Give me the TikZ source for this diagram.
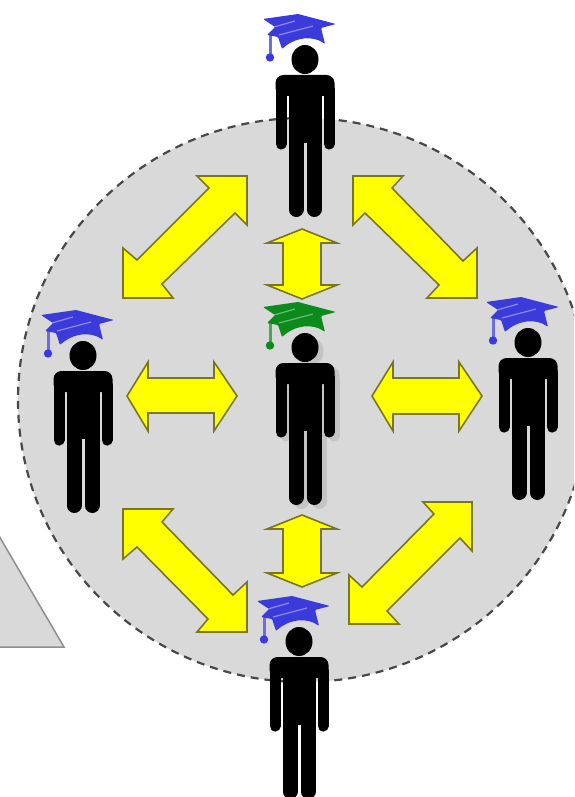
\documentclass[tikz,border=0pt]{standalone}
\definecolor{panel}{HTML}{D9D9D9}
\definecolor{rimline}{HTML}{484848}
\definecolor{wedgeline}{HTML}{8F8F8F}
\definecolor{arrowfill}{HTML}{FFFF00}
\definecolor{arrowline}{HTML}{7A7620}
\definecolor{capblue}{HTML}{3B3BDC}
\definecolor{capgreen}{HTML}{0C8A1C}
\definecolor{shadowgrey}{HTML}{C4C4C4}
\tikzset{
  twoway/.style={fill=arrowfill,draw=arrowline,line width=1.6pt,miter limit=6},
  limb/.style={line cap=round,line width=#1},
  pics/figure/.style={code={
    \fill[#1] (0,0.5) ellipse [x radius=13.5,y radius=14.5];
    \fill[#1,rounded corners=8pt] (-29.5,37) -- (-29.5,16) -- (29.5,16) -- (29.5,37) -- cycle;
    \fill[#1] (-16.5,20) rectangle (16.5,84);
    \draw[#1,limb=11pt] (-24,30) -- (-24,85);
    \draw[#1,limb=11pt] (24,30) -- (24,85);
    \draw[#1,limb=15pt] (-9,70) -- (-9,150.5);
    \draw[#1,limb=15pt] (9,70) -- (9,150.5);
  }},
  pics/mortarboard/.style={code={
    \draw[#1!75!white,line width=3pt] (-35,-26) -- (-35,-3);
    \fill[#1] (-35,-1.5) circle (4.2);
    \fill[#1,rounded corners=1pt] (-42,-40) -- (-7,-45) -- (31,-35) -- (16,-31) -- (20,-15)
      .. controls (8,-24) and (-10,-22) .. (-23,-10) -- (-27,-22) -- (-38,-24) -- (-30,-32) -- cycle;
    \draw[white,opacity=.4,line width=1.2pt] (-31,-32) -- (-10,-38);
    \draw[white,opacity=.4,line width=1.2pt] (-26,-24) -- (8,-33);
  }}
}
\begin{document}
\begin{tikzpicture}[x=1pt,y=-1pt]
\useasboundingbox (0,0) rectangle (574,797);
\clip (0,0) rectangle (574,797);
\fill[white] (0,0) rectangle (574,797);

% wedge at the left edge
\draw[fill=panel,draw=wedgeline,line width=1.5pt] (-5,529) -- (64,647) -- (-5,647) -- cycle;

% group circle
\fill[panel] (303,400) ellipse [x radius=285,y radius=282];
\draw[rimline,line width=2.2pt,dash pattern=on 8pt off 6pt] (303,400) ellipse [x radius=285,y radius=282];

% double arrows
\draw[twoway] (247,176) -- (197,176) -- (209,188) -- (137,260) -- (123,248) -- (123,298) -- (173,298) -- (162,284) -- (235,213) -- (247,225) -- cycle;
\draw[twoway] (353,176) -- (403,176) -- (392,188) -- (463,261) -- (477,248) -- (477,298) -- (427,298) -- (439,285) -- (365,213) -- (353,225) -- cycle;
\draw[twoway] (123,509) -- (173,509) -- (162,522) -- (233,595) -- (247,582) -- (247,632) -- (197,632) -- (208,619) -- (137,547) -- (123,559) -- cycle;
\draw[twoway] (472,502) -- (423,502) -- (434,514) -- (362,587) -- (349,575) -- (349,624) -- (399,624) -- (387,611) -- (460,538) -- (472,551) -- cycle;
\draw[twoway] (302,229) -- (337,243) -- (321,243) -- (321,285) -- (337,285) -- (302,299) -- (267,285) -- (283,285) -- (283,243) -- (267,243) -- cycle;
\draw[twoway] (302,515) -- (337,529) -- (321,529) -- (321,573) -- (337,573) -- (302,587) -- (267,573) -- (283,573) -- (283,529) -- (267,529) -- cycle;
\draw[twoway] (127,396) -- (148,362) -- (148,378) -- (214,378) -- (214,362) -- (237,396) -- (214,431) -- (214,413) -- (148,413) -- (148,431) -- cycle;
\draw[twoway] (372,396) -- (393,362) -- (393,378) -- (459,378) -- (459,362) -- (482,396) -- (459,431) -- (459,414) -- (393,414) -- (393,431) -- cycle;

% people
\pic at (310,351) {figure=shadowgrey};
\pic at (305,59) {figure=black};
\pic at (305,59) {mortarboard=capblue};
\pic at (305,347) {figure=black};
\pic at (305,347) {mortarboard=capgreen};
\pic at (83,355) {figure=black};
\pic at (83,355) {mortarboard=capblue};
\pic at (528,342) {figure=black};
\pic at (528,342) {mortarboard=capblue};
\pic at (299,641) {figure=black};
\pic at (299,641) {mortarboard=capblue};
\end{tikzpicture}
\end{document}
